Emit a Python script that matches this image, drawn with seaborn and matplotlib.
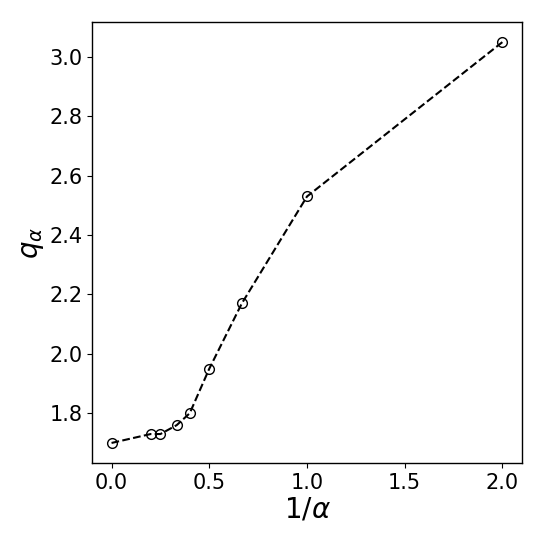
import matplotlib
matplotlib.use("Agg")
import matplotlib.pyplot as plt
import seaborn as sns
import pandas as pd

inv_alpha = [0.0, 0.2, 0.25, 1 / 3, 0.4, 0.5, 2 / 3, 1.0, 2.0]
q_alpha = [1.70, 1.73, 1.73, 1.76, 1.80, 1.95, 2.17, 2.53, 3.05]

df = pd.DataFrame({"inv_alpha": inv_alpha, "q": q_alpha})

sns.set_style("ticks")
plt.rcParams['font.family'] = ['DejaVu Sans']

fig = plt.figure(figsize=(5.45, 5.45), dpi=100)
ax = fig.add_axes([92 / 545, 1 - 463 / 545, 430 / 545, 441 / 545])

sns.lineplot(data=df, x="inv_alpha", y="q", ax=ax, color="black",
             linestyle="--", marker="o", markersize=7,
             markerfacecolor="none", markeredgecolor="black",
             markeredgewidth=1.0, linewidth=1.5)

ax.set_xlabel(r"$1/\alpha$", fontsize=20, color="black", labelpad=2)
ax.set_ylabel(r"$q_\alpha$", fontsize=20, color="black", labelpad=2)
ax.tick_params(labelsize=15, colors="black", length=3.5, width=0.8)
ax.set_xticks([0.0, 0.5, 1.0, 1.5, 2.0])
ax.set_yticks([1.8, 2.0, 2.2, 2.4, 2.6, 2.8, 3.0])
for s in ax.spines.values():
    s.set_linewidth(1.0)
    s.set_color("black")

fig.savefig("out.png", dpi=100)
